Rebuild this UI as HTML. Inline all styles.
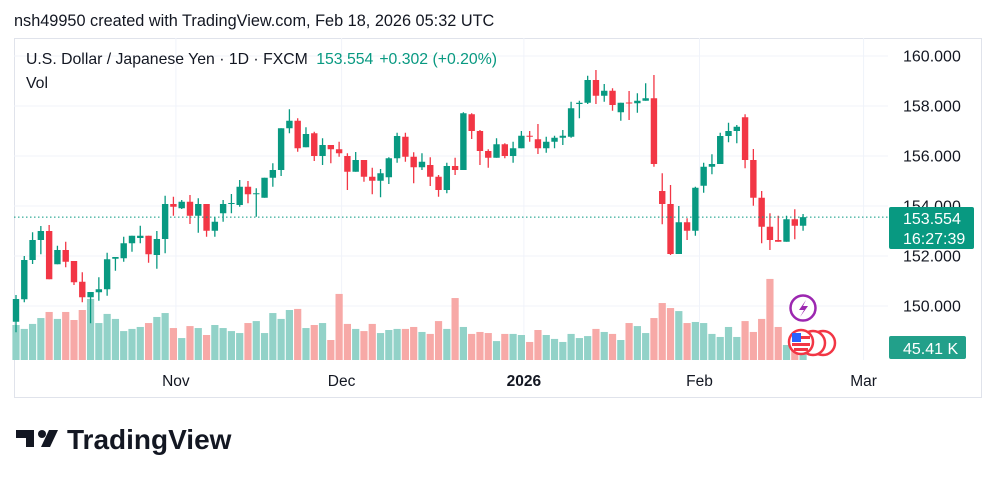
<!DOCTYPE html>
<html><head><meta charset="utf-8"><style>
body{margin:0;background:#fff;width:995px;height:482px;overflow:hidden;font-family:"Liberation Sans",sans-serif}
svg{position:absolute;left:0;top:0}
</style></head><body>
<svg width="995" height="482">
<text x="14" y="26" font-size="16.3" fill="#131722">nsh49950 created with TradingView.com, Feb 18, 2026 05:32 UTC</text>
<rect x="14.5" y="38.5" width="967" height="359" fill="none" stroke="#e0e3eb"/>
<g id="grid"></g>
<g id="vols"></g>
<g id="candles"></g>
<line x1="14" x2="888" y1="217" y2="217" stroke="#089981" stroke-dasharray="1.5,2.5" id="lastline"/>
<g id="yaxis"></g>
<g id="xaxis"></g>
<text x="26" y="64" font-size="15.8" fill="#131722">U.S. Dollar / Japanese Yen · 1D · FXCM <tspan fill="#089981" dx="4">153.554</tspan><tspan fill="#089981" dx="6">+0.302 (+0.20%)</tspan></text>
<text x="26" y="88" font-size="15.8" fill="#131722">Vol</text>
<rect x="889" y="207" width="85" height="42" rx="2" fill="#089981"/>
<text x="903" y="224" font-size="16" fill="#fff">153.554</text>
<text x="903" y="244" font-size="16" fill="#fff">16:27:39</text>
<rect x="889" y="336" width="77" height="23" rx="2" fill="#22a08a"/>
<text x="903" y="354" font-size="16" fill="#fff">45.41 K</text>
<g>
<circle cx="803" cy="308" r="12.5" fill="#fff" stroke="#9c27b0" stroke-width="2.5"/>
<path d="M806 300 L799 310 L804 310 L800 317 L808 306 L803 306 Z" fill="#9c27b0"/>
<circle cx="823" cy="343" r="12" fill="#fff" stroke="#f23645" stroke-width="2.5"/>
<circle cx="813" cy="343" r="12" fill="#fff" stroke="#f23645" stroke-width="2.5"/>
<circle cx="801" cy="342" r="12" fill="#fff" stroke="#f23645" stroke-width="2.5"/>
<rect x="792" y="333" width="9" height="9" fill="#2962ff"/><rect x="801" y="336" width="9" height="3" fill="#f23645"/><rect x="792" y="343" width="18" height="3" fill="#f23645"/><rect x="794" y="348" width="14" height="3" fill="#f23645"/>
</g>
<g>
<path d="M16 430 H34 V447 H26 V438 H16 Z" fill="#131722"/>
<circle cx="42" cy="434" r="4" fill="#131722"/>
<path d="M49 430 H58 L50 447 H41 Z" fill="#131722"/>
<text x="67" y="449" font-size="28" font-weight="bold" fill="#131722">TradingView</text>
</g>
</svg>
<script>
const opens=[149.37,150.27,151.84,152.64,153.0,151.67,152.24,151.8,150.97,150.35,150.55,150.67,151.89,151.91,152.51,152.72,152.81,152.04,152.68,154.08,153.91,154.17,153.61,154.08,153.01,153.71,154.08,154.04,154.77,154.49,154.33,155.13,155.44,157.11,157.41,156.35,156.91,156.0,156.44,156.27,156.0,155.37,155.84,155.17,155.01,155.15,155.91,156.77,155.97,155.55,155.64,155.17,154.64,155.6,155.44,157.67,157.0,156.2,155.93,156.47,156.0,156.31,156.81,156.67,156.31,156.57,156.73,156.77,158.08,158.13,159.04,158.41,158.61,157.75,158.14,158.11,158.21,158.31,154.6,154.08,152.08,153.35,153.01,154.81,155.57,155.68,156.8,157.0,157.55,155.84,154.33,153.17,152.64,152.57,153.47,153.21];
const highs=[150.44,152.0,152.95,153.2,153.24,152.41,152.57,151.8,151.35,150.56,151.15,152.13,151.96,152.77,152.81,153.21,152.81,153.0,154.41,154.37,154.24,154.44,154.31,154.08,153.55,154.24,154.48,155.04,155.0,154.71,155.13,155.71,157.11,157.87,157.51,157.15,156.97,156.71,156.44,156.57,156.11,156.16,155.84,155.53,155.48,155.95,156.93,156.93,156.15,156.11,155.95,155.24,155.73,155.93,157.75,157.71,157.04,156.27,156.71,156.51,156.57,157.0,157.0,157.28,156.77,156.81,157.04,158.17,158.21,159.21,159.44,158.88,158.71,158.13,158.6,158.51,158.91,159.24,155.31,154.84,154.0,153.51,154.77,155.73,156.07,156.93,157.33,157.24,157.67,156.28,154.6,153.71,153.61,153.61,153.87,153.68];
const lows=[148.95,150.15,151.68,152.07,151.07,151.67,151.55,150.84,150.15,149.31,150.21,150.41,151.41,151.77,152.17,152.51,151.73,151.49,152.11,153.61,153.88,153.28,152.93,152.77,152.77,153.37,153.71,153.97,154.11,153.57,154.33,154.77,155.2,156.91,156.17,156.35,155.8,155.64,155.71,155.97,154.64,155.37,154.97,154.47,154.35,154.88,155.73,155.77,154.91,155.44,154.8,154.37,154.51,155.24,155.44,156.68,155.64,155.53,155.93,155.91,155.73,156.31,156.57,156.08,156.13,156.31,156.44,156.73,157.51,158.08,158.08,158.17,157.81,157.41,157.44,157.73,158.21,155.57,153.27,152.04,152.08,152.64,152.81,154.53,155.27,155.68,156.55,156.51,155.51,154.01,152.51,152.24,152.57,152.57,152.67,153.01];
const closes=[150.28,151.84,152.64,153.0,151.07,152.24,151.77,150.95,150.35,150.56,150.67,151.87,151.96,152.51,152.81,152.81,152.07,152.68,154.08,153.97,154.17,153.61,154.08,153.01,153.37,154.08,154.12,154.77,154.47,154.51,155.13,155.44,157.11,157.41,156.31,156.88,156.0,156.44,156.27,156.11,155.37,155.84,155.17,155.01,155.31,155.91,156.8,155.97,155.55,155.77,155.17,154.64,155.6,155.44,157.71,157.0,156.2,155.93,156.47,156.0,156.31,156.81,156.77,156.31,156.57,156.73,156.81,157.91,158.13,159.04,158.41,158.61,158.04,158.13,158.12,158.21,158.31,155.68,154.08,152.08,153.35,153.01,154.73,155.57,155.68,156.8,157.0,157.17,155.84,154.33,153.17,152.64,152.57,153.47,153.21,153.554];
const volumes=[196,174,202,235,269,230,269,224,280,342,207,258,230,162,174,185,207,241,263,179,123,190,179,140,196,179,162,151,207,218,151,263,230,280,286,179,196,207,112,370,202,174,162,202,151,168,174,174,185,157,146,218,174,347,185,146,157,151,106,146,146,140,101,168,140,118,101,146,123,134,174,157,146,112,207,190,151,235,319,291,274,207,213,207,146,129,185,129,218,157,230,454,185,84,73,45.41];
const priceTicks=[160,158,156,154,152,150];
const priceTickLabels=["160.000","158.000","156.000","154.000","152.000","150.000"];
const timeLabels=["Nov","Dec","2026","Feb","Mar"];
const timeLabelIdx=[19.3,39.3,61.3,82.5,102.3];

const NS="http://www.w3.org/2000/svg";
const x=i=>16+8.285*i;
const y=p=>56+(160-p)*25;
const vy=v=>360-v/5.6;
function mk(tag,attrs,parent){const e=document.createElementNS(NS,tag);for(const k in attrs)e.setAttribute(k,attrs[k]);document.getElementById(parent).appendChild(e);return e;}
priceTicks.forEach((p,k)=>{
  const g=mk('line',{x1:14,x2:888,y1:y(p),y2:y(p),stroke:'#f0f3fa'},'grid');
  
  
  const t=mk('text',{x:903,y:y(p)+5.5,'font-size':16,fill:'#131722'},'yaxis');
  t.textContent=priceTickLabels[k];
  
  
});
timeLabels.forEach((s,k)=>{
  const xx=x(timeLabelIdx[k]);
  const g=mk('line',{x1:xx,x2:xx,y1:38,y2:360,stroke:'#f0f3fa'},'grid');
  
  
  const t=mk('text',{x:xx,y:386,'font-size':15.5,fill:'#131722','text-anchor':'middle','font-weight':s==='2026'?'bold':'normal'},'xaxis');
  t.textContent=s;
  
  
});
closes.forEach((c,i)=>{
  const up=c>=opens[i];
  const col=up?'#089981':'#f23645';
  const vb=mk('rect',{x:x(i)-3.6,y:vy(volumes[i]),width:7.2,height:360-vy(volumes[i]),fill:up?'#92d2c8':'#f7a9a7'},'vols');
  
  
  const w=mk('line',{x1:x(i),x2:x(i),y1:y(highs[i]),y2:y(lows[i]),stroke:col,'stroke-width':1.3},'candles');
  
  
  const top=y(Math.max(c,opens[i])),bot=y(Math.min(c,opens[i]));
  const b=mk('rect',{x:x(i)-3.2,y:top,width:6.4,height:Math.max(1,bot-top),fill:col},'candles');
  
  
});
document.getElementById('lastline').setAttribute('y1',y(closes[closes.length-1]));
document.getElementById('lastline').setAttribute('y2',y(closes[closes.length-1]));
</script>
</body></html>
